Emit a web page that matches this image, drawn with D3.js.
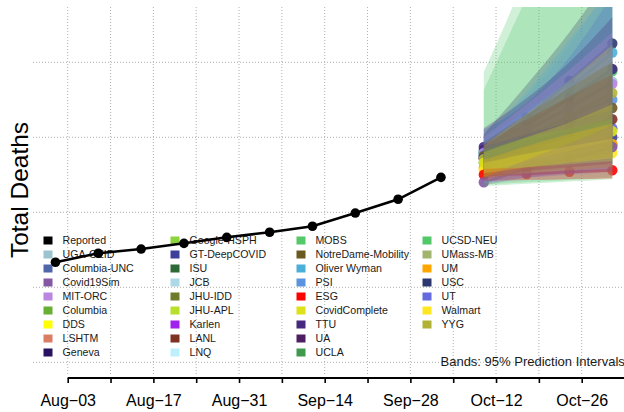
<!DOCTYPE html>
<html><head><meta charset="utf-8">
<script src="https://cdn.jsdelivr.net/npm/d3@7"></script>
<style>
body{margin:0;background:#fff}
svg{display:block;font-family:"Liberation Sans",Arial,Helvetica,sans-serif}
</style>
</head><body>
<svg id="chart" width="624" height="412"></svg>
<script>
// ---------------- DATA ----------------
const reportedDates = ["2020-08-01","2020-08-08","2020-08-15","2020-08-22","2020-08-29","2020-09-05","2020-09-12","2020-09-19","2020-09-26","2020-10-03"];
const reportedValues = [2667,2727,2755,2793,2833,2867,2907,2995,3087,3233];

const forecastDates = ["2020-10-10","2020-10-17","2020-10-24","2020-10-31"];
const forecastModels = ["UCSD-NEU","MOBS","UGA-CEID","UT","USC","Oliver Wyman","TTU","MIT-ORC","PSI","NotreDame-Mobility","LANL","GT-DeepCOVID","UCLA","YYG","UM","Walmart","ESG","Covid19Sim","CovidComplete"];
const forecastPoint = [
  [3390,3575,3760,3940],
  [3400,3585,3770,3950],
  [3385,3540,3700,3870],
  [3370,3440,3500,3560],
  [3415,3630,3875,4125],
  [3400,3600,3830,4065],
  [3435,3580,3760,3955],
  [3395,3550,3700,3855],
  [3380,3515,3635,3750],
  [3375,3495,3600,3695],
  [3360,3460,3540,3620],
  [3360,3415,3460,3500],
  [3330,3380,3415,3450],
  [3355,3490,3640,3795],
  [3295,3365,3415,3455],
  [3280,3320,3360,3395],
  [3250,3255,3270,3280],
  [3200,3290,3360,3435],
  [3330,3400,3470,3540]
];
const forecastLower = [
  [3175,3190,3205,3220],
  [3185,3200,3215,3230],
  [3195,3210,3225,3240],
  [3200,3230,3250,3270],
  [3280,3380,3470,3560],
  [3260,3350,3430,3520],
  [3300,3400,3500,3580],
  [3250,3320,3380,3440],
  [3230,3300,3350,3400],
  [3230,3290,3330,3370],
  [3220,3270,3300,3330],
  [3250,3280,3300,3320],
  [3230,3260,3280,3300],
  [3270,3340,3410,3480],
  [3240,3290,3320,3340],
  [3230,3260,3280,3300],
  [3210,3215,3220,3225],
  [3180,3230,3260,3290],
  [3260,3300,3330,3360]
];
const forecastUpper = [
  [3935,4600,5400,6200],
  [3815,4430,5000,5600],
  [3560,3780,4115,4550],
  [3550,3730,4035,4450],
  [3520,3850,4200,4600],
  [3500,3800,4150,4500],
  [3560,3760,4000,4300],
  [3500,3720,3950,4200],
  [3480,3680,3880,4080],
  [3470,3650,3830,4000],
  [3450,3620,3770,3920],
  [3440,3520,3600,3680],
  [3420,3500,3560,3620],
  [3440,3660,3880,4120],
  [3350,3440,3520,3590],
  [3330,3390,3440,3490],
  [3290,3300,3320,3340],
  [3230,3350,3460,3580],
  [3400,3500,3600,3720]
];

const legendNames = ["Reported","UGA-CEID","Columbia-UNC","Covid19Sim","MIT-ORC","Columbia","DDS","LSHTM","Geneva",
  "Google-HSPH","GT-DeepCOVID","ISU","JCB","JHU-IDD","JHU-APL","Karlen","LANL","LNQ",
  "MOBS","NotreDame-Mobility","Oliver Wyman","PSI","ESG","CovidComplete","TTU","UA","UCLA",
  "UCSD-NEU","UMass-MB","UM","USC","UT","Walmart","YYG"];
const legendColors = ["#000000","#9CC3D0","#4F67AA","#8558A4","#BB86E0","#6AAF35","#FFFF00","#DB7C64","#26125E",
  "#8DD33B","#3E3F9B","#2D6A35","#ADD8E6","#6F7A2A","#B8E02A","#A020F0","#7F3122","#BFEFFF",
  "#55C86A","#6B5A1F","#4BB0D9","#5B93E0","#FF0000","#DDE119","#45287F","#4E1E64","#3F9A4C",
  "#53C86B","#A1B56E","#FFA500","#2D3770","#636BDD","#FFE622","#B1B233"];

const tickLabels = ["Aug\u221203","Aug\u221217","Aug\u221231","Sep\u221214","Sep\u221228","Oct\u221212","Oct\u221226"];
const yGridValues = [2000,2500,3000,3500,4000];

// ---------------- CHART ----------------
const svg = d3.select("#chart");
const W = 624, H = 412;
const plot = {left:33, top:7, right:624, bottom:375};
const parse = d3.utcParse("%Y-%m-%d");
const x = d3.scaleUtc().domain([parse("2020-08-03"), parse("2020-10-31")]).range([67.7, 612.3]);
const y = d3.scaleLinear().domain([2000,4000]).range([362.3, 62.3]);
const colorOf = name => legendColors[legendNames.indexOf(name)];

svg.append("rect").attr("width",W).attr("height",H).attr("fill","#fff");

svg.append("defs").append("clipPath").attr("id","clip")
  .append("rect").attr("x",plot.left).attr("y",plot.top)
  .attr("width",plot.right-plot.left).attr("height",plot.bottom-plot.top);

// grid
const mondays = d3.utcMonday.range(parse("2020-08-03"), parse("2020-10-27"));
const grid = svg.append("g").attr("stroke","#b0b0b0").attr("stroke-width",1).attr("stroke-dasharray","1,2");
grid.selectAll("line.h").data(yGridValues).join("line")
  .attr("x1",plot.left).attr("x2",plot.right)
  .attr("y1",d=>y(d)).attr("y2",d=>y(d));
grid.selectAll("line.v").data(mondays).join("line")
  .attr("x1",d=>x(d)).attr("x2",d=>x(d))
  .attr("y1",plot.top).attr("y2",plot.bottom);

// x axis
const axisY = 378;
const tickDates = d3.utcMonday.range(parse("2020-08-03"), parse("2020-11-03"));
const axis = d3.axisBottom(x).tickValues(tickDates).tickSize(5).tickSizeOuter(0)
  .tickFormat((d,i)=> i%2===0 ? (tickLabels[i/2]||"") : "");
const gAx = svg.append("g").attr("transform",`translate(0,${axisY})`).call(axis);
gAx.select(".domain").remove();
gAx.selectAll(".tick line").attr("stroke","#000").attr("stroke-width",1.6);
gAx.selectAll(".tick text").attr("font-size","16px").attr("fill","#000")
  .attr("font-family","'Liberation Sans',Arial,sans-serif").attr("dy","0").attr("y",27.5);
svg.append("line").attr("x1",x(parse("2020-08-03"))).attr("x2",W+2)
  .attr("y1",axisY).attr("y2",axisY).attr("stroke","#000").attr("stroke-width",2);

// y label
svg.append("text").attr("transform","translate(28,190) rotate(-90)")
  .attr("text-anchor","middle").attr("font-size","24.5px").attr("fill","#000")
  .text("Total Deaths");

// legend
const leg = svg.append("g");
const colX = [43.5,170.5,296.5,422.5];
legendNames.forEach((n,i)=>{
  const c = i<9?0:i<18?1:i<27?2:3;
  const r = i<27 ? i%9 : i-27;
  const cy = 240.5 + r*14;
  leg.append("rect").attr("x",colX[c]).attr("y",cy-4).attr("width",9).attr("height",8).attr("fill",legendColors[i]);
  leg.append("text").attr("x",colX[c]+19).attr("y",cy+3.8).attr("font-size","10.6px").attr("fill","#1a1a1a").text(n);
});

svg.append("text").attr("x",440.5).attr("y",365.5).attr("font-size","13px").attr("fill","#1a1a1a")
  .text("Bands: 95% Prediction Intervals");

// reported
const rep = reportedDates.map((d,i)=>({d:parse(d),v:reportedValues[i]}));
const line = d3.line().x(p=>x(p.d)).y(p=>y(p.v));
svg.append("path").datum(rep).attr("d",line).attr("fill","none").attr("stroke","#000").attr("stroke-width",2.5);
svg.selectAll("circle.rep").data(rep).join("circle").attr("class","rep")
  .attr("cx",p=>x(p.d)).attr("cy",p=>y(p.v)).attr("r",4.8).attr("fill","#000");

// forecasts (lines & points, then bands on top)
const fg = svg.append("g").attr("clip-path","url(#clip)");
const fd = forecastDates.map(parse);
forecastModels.forEach((m,k)=>{
  const pts = fd.map((d,i)=>({d,v:forecastPoint[k][i]}));
  const col = colorOf(m);
  fg.append("path").datum(pts).attr("d",line).attr("fill","none")
    .attr("stroke",col).attr("stroke-width",2.8).attr("opacity",0.75);
  fg.selectAll(null).data(pts).join("circle")
    .attr("cx",p=>x(p.d)).attr("cy",p=>y(p.v)).attr("r",5.2).attr("fill",col).attr("opacity",0.9);
});
const area = d3.area().x((p)=>x(p.d)).y0(p=>y(p.lo)).y1(p=>y(p.hi)).curve(d3.curveMonotoneX);
forecastModels.forEach((m,k)=>{
  const pts = fd.map((d,i)=>({d,lo:forecastLower[k][i],hi:forecastUpper[k][i]}));
  fg.append("path").datum(pts).attr("d",area).attr("fill",colorOf(m)).attr("fill-opacity",0.27).attr("stroke","none");
});
</script>
</body></html>
